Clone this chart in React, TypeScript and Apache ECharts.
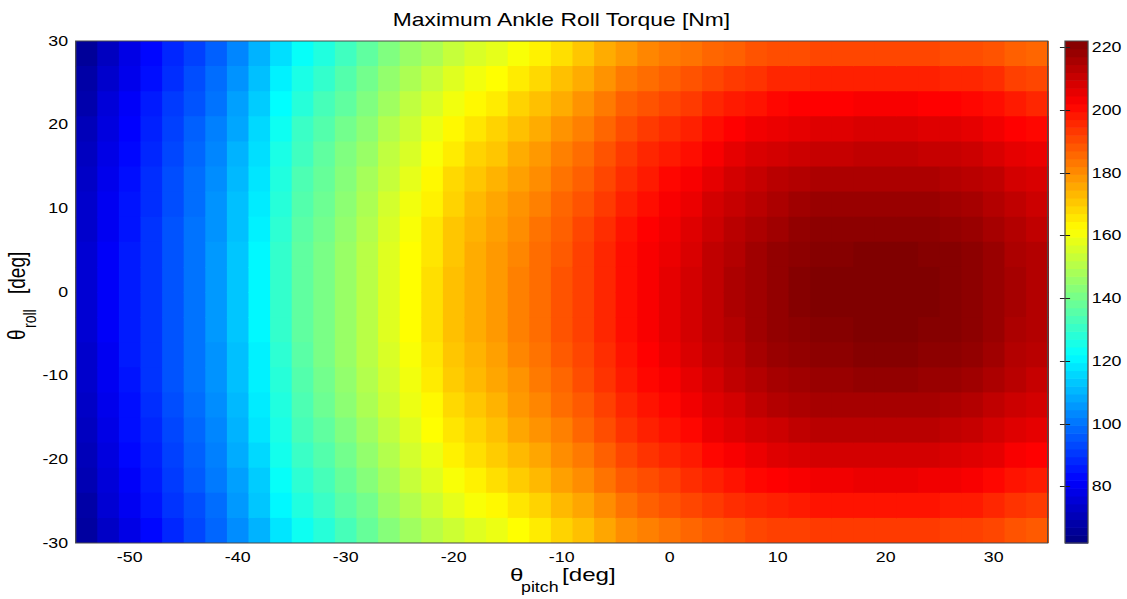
import React, { useEffect, useRef } from "react";
import * as echarts from "echarts";

// ---------------- data ----------------
// pitch cell centres [deg]: 2-degree cells spanning -55 .. 35
const PITCH_CENTERS = [-54, -52, -50, -48, -46, -44, -42, -40, -38, -36, -34, -32, -30, -28, -26, -24, -22, -20, -18, -16, -14, -12, -10, -8, -6, -4, -2, 0, 2, 4, 6, 8, 10, 12, 14, 16, 18, 20, 22, 24, 26, 28, 30, 32, 34];
// roll cell centres [deg]: 3-degree cells spanning 30 .. -30 (top to bottom)
const ROLL_CENTERS = [28.5, 25.5, 22.5, 19.5, 16.5, 13.5, 10.5, 7.5, 4.5, 1.5, -1.5, -4.5, -7.5, -10.5, -13.5, -16.5, -19.5, -22.5, -25.5, -28.5];

// maximum ankle roll torque [Nm], one array per pitch column, values from roll = 28.5 down to -28.5
const COL_M54 = [66, 68, 69, 71, 72, 73, 74, 74, 75, 75, 75, 75, 74, 74, 73, 72, 71, 70, 68, 67];
const COL_M52 = [72, 74, 76, 77, 78, 79, 80, 80, 81, 81, 81, 81, 80, 80, 79, 78, 77, 76, 75, 73];
const COL_M50 = [78, 79, 81, 82, 83, 84, 85, 85, 86, 86, 86, 86, 86, 85, 84, 84, 83, 81, 80, 78];
const COL_M48 = [83, 84, 86, 87, 88, 89, 89, 90, 90, 90, 90, 90, 90, 90, 89, 88, 87, 86, 85, 83];
const COL_M46 = [88, 89, 91, 92, 93, 94, 94, 95, 95, 95, 95, 95, 95, 95, 94, 93, 92, 91, 90, 88];
const COL_M44 = [92, 94, 95, 97, 98, 99, 99, 100, 100, 100, 100, 100, 100, 100, 99, 98, 97, 96, 94, 93];
const COL_M42 = [97, 99, 100, 102, 103, 104, 105, 105, 106, 106, 106, 106, 105, 105, 104, 103, 102, 101, 99, 98];
const COL_M40 = [103, 105, 107, 108, 110, 111, 112, 112, 113, 113, 113, 113, 112, 112, 111, 110, 109, 107, 106, 104];
const COL_M38 = [110, 112, 114, 116, 117, 118, 119, 120, 121, 121, 121, 121, 120, 120, 119, 118, 116, 114, 113, 110];
const COL_M36 = [117, 120, 122, 124, 126, 127, 128, 129, 130, 130, 130, 130, 129, 128, 127, 126, 125, 123, 121, 118];
const COL_M34 = [123, 126, 128, 131, 132, 134, 135, 136, 137, 137, 137, 137, 136, 135, 134, 133, 131, 129, 127, 124];
const COL_M32 = [127, 130, 133, 135, 137, 138, 139, 140, 141, 141, 141, 141, 141, 140, 139, 137, 135, 133, 131, 128];
const COL_M30 = [132, 135, 137, 140, 142, 143, 144, 145, 146, 146, 146, 146, 146, 145, 144, 142, 140, 138, 136, 133];
const COL_M28 = [137, 140, 142, 144, 146, 148, 149, 150, 151, 151, 151, 151, 151, 150, 149, 147, 145, 143, 140, 138];
const COL_M26 = [142, 145, 147, 150, 152, 153, 155, 156, 157, 157, 157, 157, 156, 155, 154, 152, 150, 148, 146, 143];
const COL_M24 = [146, 149, 152, 154, 156, 158, 160, 161, 162, 162, 162, 162, 161, 160, 159, 157, 155, 153, 150, 147];
const COL_M22 = [149, 153, 156, 159, 161, 163, 164, 166, 166, 167, 167, 167, 166, 165, 163, 162, 159, 157, 154, 151];
const COL_M20 = [153, 157, 160, 163, 165, 168, 169, 171, 171, 172, 172, 172, 171, 170, 168, 166, 164, 161, 158, 154];
const COL_M18 = [156, 160, 163, 166, 169, 171, 173, 174, 175, 175, 175, 175, 174, 173, 171, 169, 167, 164, 161, 157];
const COL_M16 = [158, 162, 165, 169, 171, 174, 176, 177, 178, 178, 178, 178, 177, 176, 174, 172, 170, 167, 163, 159];
const COL_M14 = [161, 165, 169, 172, 175, 177, 179, 180, 181, 182, 182, 182, 181, 179, 178, 176, 173, 170, 166, 162];
const COL_M12 = [164, 168, 172, 175, 178, 180, 182, 184, 185, 185, 185, 185, 184, 183, 181, 179, 176, 173, 169, 165];
const COL_M10 = [167, 172, 175, 179, 182, 184, 186, 187, 188, 189, 189, 189, 188, 186, 185, 182, 180, 177, 173, 169];
const COL_M8 = [171, 175, 179, 182, 185, 187, 189, 191, 192, 192, 192, 192, 191, 190, 188, 186, 183, 180, 176, 172];
const COL_M6 = [175, 179, 183, 186, 189, 191, 193, 195, 196, 196, 196, 196, 195, 194, 192, 190, 187, 184, 180, 176];
const COL_M4 = [178, 183, 187, 190, 193, 195, 197, 199, 200, 200, 200, 200, 199, 198, 196, 194, 191, 188, 184, 180];
const COL_M2 = [181, 185, 189, 193, 196, 198, 200, 202, 203, 203, 203, 203, 202, 201, 199, 197, 194, 190, 187, 182];
const COL_0 = [183, 187, 191, 195, 198, 201, 203, 204, 205, 206, 206, 206, 205, 203, 201, 199, 196, 192, 189, 184];
const COL_P2 = [184, 189, 193, 197, 200, 203, 205, 207, 208, 209, 209, 209, 208, 206, 204, 201, 198, 195, 191, 186];
const COL_P4 = [186, 191, 196, 200, 203, 206, 209, 210, 212, 212, 212, 212, 211, 209, 207, 205, 201, 197, 193, 188];
const COL_P6 = [187, 193, 198, 202, 206, 209, 211, 213, 214, 215, 215, 214, 213, 212, 209, 207, 203, 199, 195, 189];
const COL_P8 = [189, 194, 199, 204, 208, 211, 213, 215, 217, 217, 217, 217, 216, 214, 212, 209, 205, 201, 196, 191];
const COL_P10 = [190, 196, 201, 205, 209, 213, 215, 217, 219, 219, 219, 219, 218, 216, 214, 210, 207, 202, 197, 192];
const COL_P12 = [190, 196, 202, 206, 210, 214, 217, 219, 220, 221, 221, 220, 219, 217, 215, 212, 208, 203, 198, 192];
const COL_P14 = [191, 197, 202, 207, 211, 215, 218, 220, 221, 222, 222, 221, 220, 218, 216, 213, 209, 204, 199, 193];
const COL_P16 = [191, 197, 202, 207, 211, 215, 218, 220, 221, 222, 222, 221, 220, 218, 216, 213, 209, 204, 199, 193];
const COL_P18 = [191, 197, 203, 208, 212, 215, 218, 220, 222, 222, 222, 222, 221, 219, 216, 213, 209, 205, 199, 193];
const COL_P20 = [191, 197, 203, 208, 212, 215, 218, 220, 222, 222, 222, 222, 221, 219, 216, 213, 209, 205, 199, 193];
const COL_P22 = [191, 197, 203, 208, 212, 215, 218, 220, 222, 222, 222, 222, 221, 219, 216, 213, 209, 205, 199, 193];
const COL_P24 = [191, 197, 202, 207, 211, 215, 218, 220, 221, 222, 222, 221, 220, 218, 216, 213, 209, 204, 199, 193];
const COL_P26 = [190, 196, 202, 207, 211, 214, 217, 219, 221, 221, 221, 221, 220, 218, 215, 212, 208, 204, 198, 192];
const COL_P28 = [190, 196, 201, 206, 210, 213, 216, 218, 220, 220, 220, 220, 219, 217, 214, 211, 207, 203, 198, 192];
const COL_P30 = [189, 195, 200, 204, 208, 212, 214, 216, 218, 218, 218, 218, 217, 215, 212, 209, 206, 201, 196, 191];
const COL_P32 = [187, 192, 198, 202, 206, 209, 212, 214, 215, 216, 216, 215, 214, 213, 210, 207, 203, 199, 194, 189];
const COL_P34 = [186, 191, 196, 201, 205, 208, 210, 212, 214, 214, 214, 214, 213, 211, 209, 206, 202, 198, 193, 188];

const TORQUE_COLUMNS = [
  COL_M54, COL_M52, COL_M50, COL_M48, COL_M46, COL_M44, COL_M42, COL_M40, COL_M38, COL_M36,
  COL_M34, COL_M32, COL_M30, COL_M28, COL_M26, COL_M24, COL_M22, COL_M20, COL_M18, COL_M16,
  COL_M14, COL_M12, COL_M10, COL_M8, COL_M6, COL_M4, COL_M2, COL_0, COL_P2, COL_P4,
  COL_P6, COL_P8, COL_P10, COL_P12, COL_P14, COL_P16, COL_P18, COL_P20, COL_P22, COL_P24,
  COL_P26, COL_P28, COL_P30, COL_P32, COL_P34,
];

const PITCH_TICKS = [-50, -40, -30, -20, -10, 0, 10, 20, 30];
const ROLL_TICKS = [-30, -20, -10, 0, 10, 20, 30];
const COLORBAR_TICKS = [80, 100, 120, 140, 160, 180, 200, 220];
const C_MIN = 62;
const C_MAX = 222;
const C_LEVELS = 64;

const CELL_PITCH = 2;
const CELL_ROLL = 3;

// MATLAB "jet"
const JET = ["#000080", "#0000ff", "#0080ff", "#00ffff", "#80ff80", "#ffff00", "#ff8000", "#ff0000", "#800000"];

// ---------------- layout ----------------
const SX = 1127 / 887; // the reference is horizontally stretched
const u = (px: number) => px / SX;
const PLOT_L = u(75.7);
const PLOT_R = u(1047.7);
const PLOT_T = 41;
const PLOT_B = 543;
const CB_L = u(1065);
const CB_R = u(1088);
const FONT = "'Liberation Sans', Arial, Helvetica, sans-serif";

function buildCells() {
  const out: number[][] = [];
  PITCH_CENTERS.forEach((p, j) => {
    ROLL_CENTERS.forEach((r, i) => {
      out.push([p, r, TORQUE_COLUMNS[j][i]]);
    });
  });
  return out;
}

function buildColorbar() {
  const step = (C_MAX - C_MIN) / C_LEVELS;
  const out: number[][] = [];
  for (let k = 0; k < C_LEVELS; k++) {
    const v = C_MIN + step * (k + 0.5);
    out.push([0.5, v, v]);
  }
  return out;
}

function txt(text: string, x: number, y: number, size: number, align: string, extra: any = {}) {
  return {
    type: "text",
    x,
    y,
    z: 100,
    silent: true,
    ...extra,
    style: {
      text,
      fill: "#000",
      fontSize: size,
      fontFamily: FONT,
      textAlign: align,
      textVerticalAlign: "middle",
      align,
      verticalAlign: "middle",
    },
  };
}

export default function App() {
  const ref = useRef<HTMLDivElement>(null);

  useEffect(() => {
    if (!ref.current) return;
    const chart = echarts.init(ref.current, null, { renderer: "svg" });
    const cbStep = (C_MAX - C_MIN) / C_LEVELS;

    const option: any = {
      animation: false,
      backgroundColor: "#ffffff",
      textStyle: { fontFamily: FONT },
      grid: [
        { left: PLOT_L, top: PLOT_T, width: PLOT_R - PLOT_L, height: PLOT_B - PLOT_T },
        { left: CB_L, top: PLOT_T, width: CB_R - CB_L, height: PLOT_B - PLOT_T },
      ],
      xAxis: [
        {
          gridIndex: 0,
          type: "value",
          min: -55,
          max: 35,
          axisLine: { show: false },
          axisTick: { show: false },
          splitLine: { show: false },
          axisLabel: { customValues: PITCH_TICKS, fontSize: 14, color: "#000", margin: 7, fontFamily: FONT },
        },
        { gridIndex: 1, type: "value", min: 0, max: 1, show: false },
      ],
      yAxis: [
        {
          gridIndex: 0,
          type: "value",
          min: -30,
          max: 30,
          interval: 10,
          axisLine: { show: false },
          axisTick: { show: false },
          splitLine: { show: false },
          axisLabel: { customValues: ROLL_TICKS, fontSize: 14, color: "#000", margin: 6, fontFamily: FONT },
        },
        {
          gridIndex: 1,
          type: "value",
          position: "right",
          min: C_MIN,
          max: C_MAX,
          z: 10,
          axisLine: { show: false },
          splitLine: { show: false },
          axisTick: { show: true, inside: true, length: 4, customValues: COLORBAR_TICKS, lineStyle: { color: "#222", width: 1 } },
          axisLabel: { customValues: COLORBAR_TICKS, fontSize: 14, color: "#000", margin: 3, fontFamily: FONT },
        },
        {
          gridIndex: 1,
          type: "value",
          position: "left",
          min: C_MIN,
          max: C_MAX,
          z: 10,
          axisLine: { show: false },
          splitLine: { show: false },
          axisTick: { show: true, inside: true, length: 4, customValues: COLORBAR_TICKS, lineStyle: { color: "#222", width: 1 } },
          axisLabel: { show: false },
        },
      ],
      visualMap: {
        type: "continuous",
        show: false,
        min: C_MIN,
        max: C_MAX,
        dimension: 2,
        seriesIndex: [0, 1],
        inRange: { color: JET },
      },
      series: [
        {
          type: "custom",
          xAxisIndex: 0,
          yAxisIndex: 0,
          clip: true,
          data: buildCells(),
          renderItem: (params: any, api: any) => {
            const x = api.value(0);
            const y = api.value(1);
            const a = api.coord([x - CELL_PITCH / 2, y + CELL_ROLL / 2]);
            const b = api.coord([x + CELL_PITCH / 2, y - CELL_ROLL / 2]);
            return {
              type: "rect",
              shape: { x: a[0], y: a[1], width: b[0] - a[0] + 1, height: b[1] - a[1] + 1 },
              style: { fill: api.visual("color") },
            };
          },
        },
        {
          type: "custom",
          xAxisIndex: 1,
          yAxisIndex: 1,
          data: buildColorbar(),
          renderItem: (params: any, api: any) => {
            const v = api.value(1);
            const a = api.coord([0, v + cbStep / 2]);
            const b = api.coord([1, v - cbStep / 2]);
            return {
              type: "rect",
              shape: { x: a[0], y: a[1], width: b[0] - a[0], height: b[1] - a[1] + 0.6 },
              style: { fill: api.visual("color") },
            };
          },
        },
      ],
      graphic: [
        {
          type: "rect",
          z: 100,
          silent: true,
          shape: { x: PLOT_L, y: PLOT_T, width: PLOT_R - PLOT_L, height: PLOT_B - PLOT_T },
          style: { fill: "none", stroke: "#4a4a4a", lineWidth: 1 },
        },
        {
          type: "rect",
          z: 100,
          silent: true,
          shape: { x: CB_L, y: PLOT_T, width: CB_R - CB_L, height: PLOT_B - PLOT_T },
          style: { fill: "none", stroke: "#4a4a4a", lineWidth: 1 },
        },
        txt("Maximum Ankle Roll Torque [Nm]", u(561.5), 19, 18, "center"),
        // x axis name: θ_pitch [deg]
        txt("θ", u(510), 574, 19, "left"),
        txt("pitch", u(521), 587, 14, "left"),
        txt("[deg]", u(562), 574, 19, "left"),
        // y axis name: θ_roll [deg] (rotated)
        txt("θ", u(17), 340, 19, "left", { rotation: Math.PI / 2 }),
        txt("roll", u(30), 328, 14, "left", { rotation: Math.PI / 2 }),
        txt("[deg]", u(17), 294, 19, "left", { rotation: Math.PI / 2 }),
      ],
    };

    chart.setOption(option);
    return () => {
      chart.dispose();
    };
  }, []);

  return (
    <div
      style={{
        position: "fixed",
        left: 0,
        top: 0,
        width: 1127,
        height: 599,
        overflow: "hidden",
        background: "#ffffff",
      }}
    >
      <div
        ref={ref}
        style={{
          width: 887,
          height: 599,
          transform: `scaleX(${SX})`,
          transformOrigin: "0 0",
        }}
      />
    </div>
  );
}
